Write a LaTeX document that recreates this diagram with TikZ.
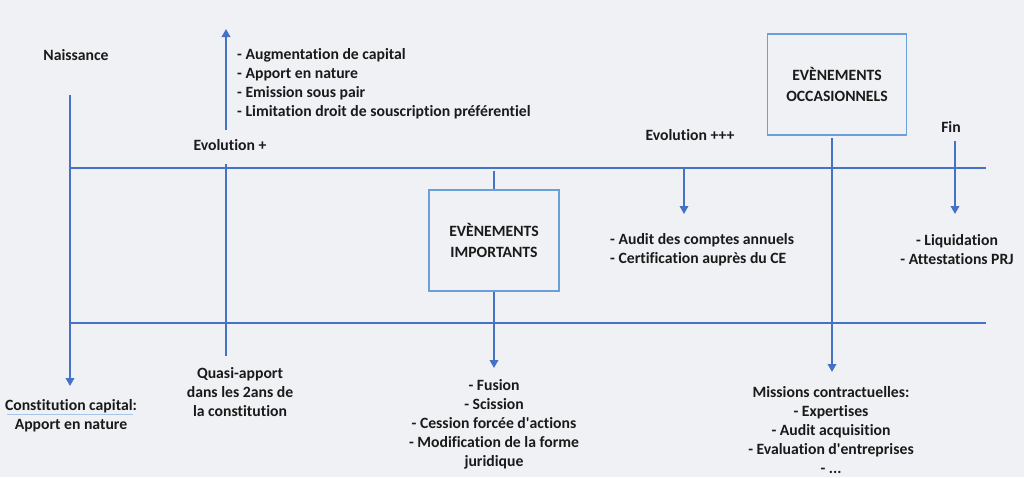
\documentclass[tikz,border=0pt]{standalone}
\usepackage{fontspec}
\setmainfont[Ligatures=NoCommon]{Carlito}
\usetikzlibrary{arrows.meta}

\definecolor{fond}{HTML}{F0F1F4}
\definecolor{trait}{HTML}{4472C4}
\definecolor{cadrebleu}{HTML}{6A9FDB}
\definecolor{souligne}{HTML}{A9C4EC}
\definecolor{texte}{HTML}{1A1A1A}

\begin{document}
\begin{tikzpicture}[x=1pt, y=-1pt,
    every node/.style={font=\bfseries\fontsize{15.7}{19}\selectfont, text=texte, inner sep=0pt},
    axe/.style={draw=trait, line width=1.8pt},
    fleche/.style={axe, -{Triangle[length=8pt, width=8.5pt]}},
    cadre/.style={draw=cadrebleu, line width=1.3pt, minimum width=130pt, minimum height=101pt,
        align=center, font=\bfseries\fontsize{15.7}{21}\selectfont}]
    \fill[fond] (0,0) rectangle (1024,477);
    \useasboundingbox (0,0) rectangle (1024,477);

    % textes
    \node (naiss) at (76,55) {Naissance};
    \node (evol1) at (230,145) {Evolution +};
    \node[anchor=west, align=left] (liste1) at (237,84) {- Augmentation de capital\\- Apport en nature\\- Emission sous pair\\- Limitation droit de souscription préférentiel};
    \node[align=center] (quasi) at (240,392) {Quasi-apport\\dans les 2ans de\\la constitution};
    \node[align=center] (constit) at (71,416) {Constitution capital:\\Apport en nature};
    \node[cadre] (imp) at (494,240.5) {EVÈNEMENTS\\IMPORTANTS};
    \node[align=center] (fusion) at (494,424) {- Fusion\\- Scission\\- Cession forcée d\textquotesingle actions\\- Modification de la forme\\juridique};
    \node (evol3) at (690,135) {Evolution +++};
    \node[anchor=west, align=left] (audit) at (610,249.5) {- Audit des comptes annuels\\- Certification auprès du CE};
    \node[cadre, minimum width=139pt] (occ) at (837,84.5) {EVÈNEMENTS\\OCCASIONNELS};
    \node[align=center] (missions) at (831,430) {Missions contractuelles:\\- Expertises\\- Audit acquisition\\- Evaluation d\textquotesingle entreprises\\- ...};
    \node (fin) at (951,127) {Fin};
    \node[align=center] (liquid) at (957,249.5) {- Liquidation\\- Attestations PRJ};

    % extremites
    \coordinate (hautG) at (70,168);
    \coordinate (hautD) at (986,168);
    \coordinate (basG) at (70,323);
    \coordinate (basD) at (986,323);
    \coordinate (naissH) at (70,95);
    \coordinate (naissB) at (70,386);
    \coordinate (evol1B) at (226,130);
    \coordinate (evol1H) at (226,29);
    \coordinate (quasiH) at (226,164);
    \coordinate (quasiB) at (226,356);
    \coordinate (impH) at (494,171);
    \coordinate (impB) at (494,368);
    \coordinate (evol3H) at (684,168);
    \coordinate (evol3B) at (684,214);
    \coordinate (occH) at (832,138);
    \coordinate (occB) at (832,372);
    \coordinate (finH) at (955,141);
    \coordinate (finB) at (955,214);

    \draw[axe] (hautG) -- (hautD);
    \draw[axe] (basG) -- (basD);
    \draw[fleche] (naissH) -- (naissB);
    \draw[fleche] (evol1B) -- (evol1H);
    \draw[axe] (quasiH) -- (quasiB);
    \draw[axe] (impH) -- (imp.north);
    \draw[fleche] (imp.south) -- (impB);
    \draw[fleche] (evol3H) -- (evol3B);
    \draw[fleche] (occH) -- (occB);
    \draw[fleche] (finH) -- (finB);

    % soulignement du correcteur
    \coordinate (soulG) at (7,414);
    \coordinate (soulD) at (133,414);
    \draw[souligne, line width=1pt] (soulG) -- (soulD);
\end{tikzpicture}
\end{document}
